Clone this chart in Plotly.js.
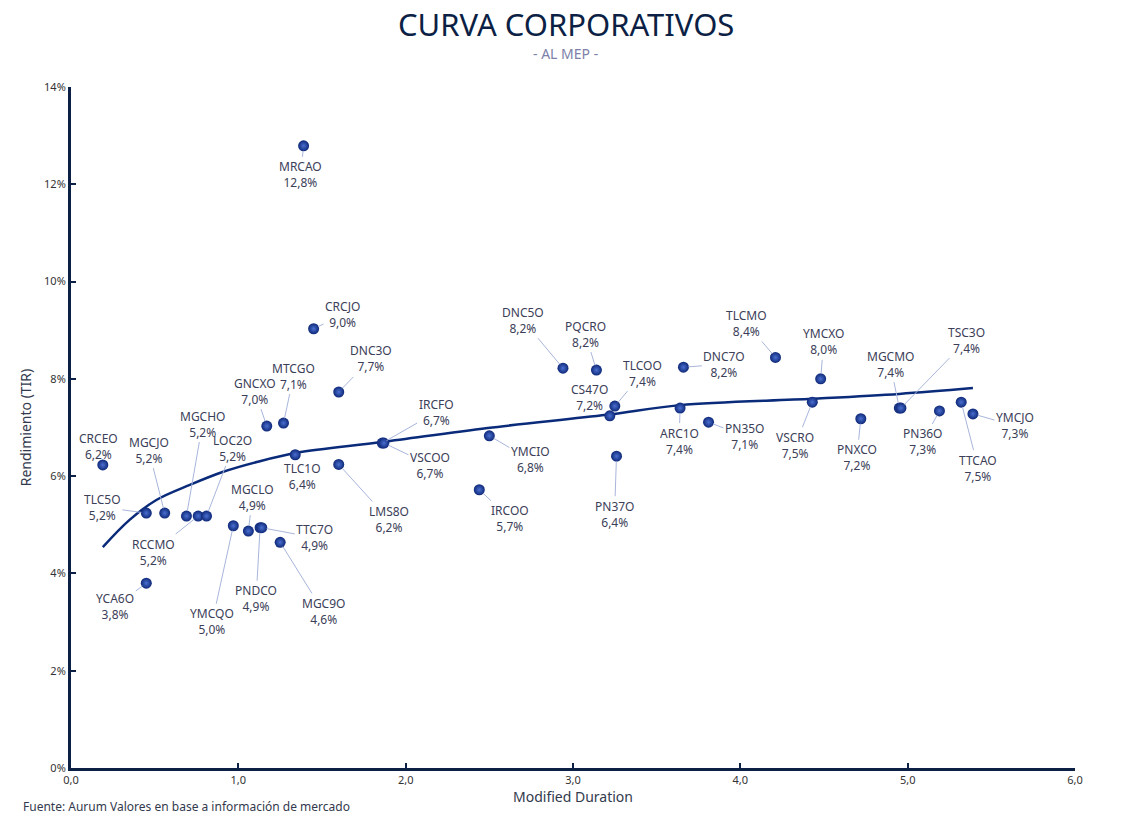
<!DOCTYPE html>
<html>
<head>
<meta charset="utf-8">
<script src="https://cdn.plot.ly/plotly-3.0.1.min.js"></script>
<style>
  html, body { margin: 0; padding: 0; background: #fff; }
  #grafico { width: 1136px; height: 824px; }
</style>
</head>
<body>
<div id="grafico"></div>
<script>
// bonos corporativos: duración modificada vs TIR (%)
const bonos = ['CRCEO', 'TLC5O', 'MGCJO', 'MGCHO', 'RCCMO', 'LOC2O', 'YCA6O', 'YMCQO',
  'MGCLO', 'PNDCO', 'TTC7O', 'MGC9O', 'TLC1O', 'GNCXO', 'MTCGO', 'CRCJO', 'MRCAO',
  'DNC3O', 'LMS8O', 'IRCFO', 'VSCOO', 'YMCIO', 'IRCOO', 'DNC5O', 'PQCRO', 'TLCOO',
  'CS47O', 'PN37O', 'DNC7O', 'ARC1O', 'PN35O', 'TLCMO', 'YMCXO', 'VSCRO', 'PNXCO',
  'MGCMO', 'TSC3O', 'PN36O', 'TTCAO', 'YMCJO'];

const duracion = [0.19, 0.45, 0.56, 0.69, 0.76, 0.81, 0.45, 0.97,
  1.06, 1.13, 1.14, 1.25, 1.34, 1.17, 1.27, 1.45, 1.39,
  1.60, 1.60, 1.86, 1.87, 2.50, 2.44, 2.94, 3.14, 3.25,
  3.22, 3.26, 3.66, 3.64, 3.81, 4.21, 4.48, 4.43, 4.72,
  4.95, 4.96, 5.19, 5.32, 5.39];

const tir = [6.23, 5.24, 5.24, 5.18, 5.18, 5.18, 3.80, 4.98,
  4.87, 4.94, 4.94, 4.64, 6.44, 7.03, 7.09, 9.03, 12.79,
  7.73, 6.24, 6.68, 6.68, 6.83, 5.72, 8.22, 8.18, 7.44,
  7.24, 6.41, 8.24, 7.40, 7.11, 8.44, 8.00, 7.52, 7.18,
  7.40, 7.40, 7.34, 7.52, 7.28];

// desplazamiento de cada etiqueta respecto del punto (px)
const etiquetaDx = [-4, -44, -16, 16, -45, 26, -31, -21,
  4, -4, 53, 43, 7, -12, 10, 29, -3,
  32, 50, 54, 46, 41, 31, -40, -11, 28,
  -20, -2, 41, -1, 36, -29, 3, -17, -4,
  -9, 66, -17, 17, 42];
const etiquetaDy = [-18, -6, -63, -92, 36, -68, 23, 96,
  -34, 71, 10, 69, 22, -35, -47, -14, 29,
  -33, 55, -31, 22, 24, 29, -48, -36, -33,
  -18, 58, -3, 33, 14, -34, -37, 43, 39,
  -44, -68, 31, 66, 12];

// curva de tendencia
const tendenciaX = [0.19, 0.35, 0.51, 0.71, 0.91, 1.11, 1.35, 1.86, 2.49, 3.20, 3.64, 4.43, 4.95, 5.39];
const tendenciaY = [4.54, 5.10, 5.51, 5.82, 6.09, 6.29, 6.48, 6.70, 6.99, 7.26, 7.46, 7.59, 7.69, 7.81];

const ticksY = [0, 2, 4, 6, 8, 10, 12, 14];
const ticksX = [0, 1, 2, 3, 4, 5, 6];

const azulOscuro = '#0c1f45';
const fuente = 'Noto Sans, Lato, sans-serif';

function formatoPct(v) {
  return v.toFixed(1).replace('.', ',') + '%';
}

const trazaTendencia = {
  x: tendenciaX,
  y: tendenciaY,
  type: 'scatter',
  mode: 'lines',
  line: { color: '#0a2a7a', width: 2.5, shape: 'spline' },
  hoverinfo: 'skip'
};

const trazaBonos = {
  x: duracion,
  y: tir,
  text: bonos,
  type: 'scatter',
  mode: 'markers',
  marker: {
    size: 11,
    color: '#0e2878',
    gradient: { type: 'radial', color: '#4a6fd0' },
    line: { width: 0 }
  }
};

const etiquetas = bonos.map((b, i) => ({
  x: duracion[i],
  y: tir[i],
  xref: 'x',
  yref: 'y',
  text: b + '<br>' + formatoPct(tir[i]),
  showarrow: true,
  arrowhead: 0,
  arrowwidth: 1,
  arrowcolor: '#a8b6dc',
  standoff: 5,
  ax: etiquetaDx[i],
  ay: etiquetaDy[i],
  font: { family: fuente, size: 12, color: '#3b4058' }
}));

const textos = [
  {
    text: 'CURVA CORPORATIVOS',
    xref: 'paper', yref: 'paper', x: 0.493, y: 1, yshift: 63,
    yanchor: 'middle',
    showarrow: false,
    font: { family: fuente, size: 31, color: azulOscuro }
  },
  {
    text: '- AL MEP -',
    xref: 'paper', yref: 'paper', x: 0.493, y: 1, yshift: 34,
    yanchor: 'middle',
    showarrow: false,
    font: { family: fuente, size: 14, color: '#7d80a8' }
  },
  {
    text: 'Fuente: Aurum Valores en base a información de mercado',
    xref: 'paper', yref: 'paper', x: 0, y: 0, xshift: -50, yshift: -38,
    xanchor: 'left', yanchor: 'middle',
    showarrow: false,
    font: { family: fuente, size: 12, color: '#333a4d' }
  }
];

const layout = {
  width: 1136,
  height: 824,
  separators: ',.',
  showlegend: false,
  paper_bgcolor: '#fff',
  plot_bgcolor: '#fff',
  margin: { l: 71, r: 61, t: 87, b: 56 },
  font: { family: fuente, color: '#333' },
  xaxis: {
    range: [0, 6],
    tickvals: ticksX,
    tickformat: '.1f',
    showgrid: false,
    zeroline: false,
    showline: true,
    linecolor: azulOscuro,
    linewidth: 3,
    ticks: 'inside',
    ticklen: 5,
    tickwidth: 2,
    tickcolor: azulOscuro,
    tickfont: { family: fuente, size: 11, color: '#333' },
    title: { text: 'Modified Duration', standoff: 4, font: { family: fuente, size: 14, color: '#333a4d' } }
  },
  yaxis: {
    range: [0, 14],
    tickvals: ticksY,
    ticktext: ticksY.map(v => v + '%'),
    showgrid: false,
    zeroline: false,
    showline: true,
    linecolor: azulOscuro,
    linewidth: 3,
    ticks: 'inside',
    ticklen: 5,
    tickwidth: 2,
    tickcolor: azulOscuro,
    tickfont: { family: fuente, size: 11, color: '#333' },
    title: { text: 'Rendimiento (TIR)', standoff: 10, font: { family: fuente, size: 14, color: '#333a4d' } }
  },
  annotations: textos.concat(etiquetas)
};

Plotly.newPlot('grafico', [trazaTendencia, trazaBonos], layout, { displayModeBar: false, staticPlot: true });
</script>
</body>
</html>
